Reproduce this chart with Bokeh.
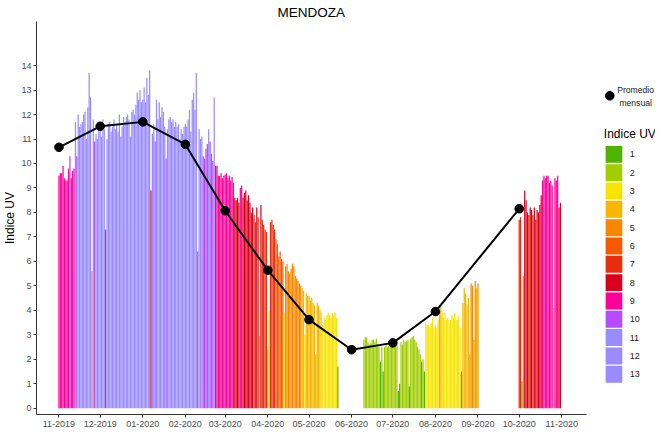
import math
import pandas as pd
from bokeh.plotting import figure
from bokeh.models import Range1d, FixedTicker, DatetimeTickFormatter, ColumnDataSource
from bokeh.embed import file_html
from bokeh.resources import INLINE
from bokeh.core.properties import value

# ---------------- data ----------------
title_text = "MENDOZA"
y_label = "Indice UV"

uv_levels = [1, 2, 3, 4, 5, 6, 7, 8, 9, 10, 11, 12, 13]
uv_colors = ["#4EB400", "#A0CE00", "#F7E400", "#F8B600", "#F88700", "#F85900",
             "#E82C0E", "#D8001D", "#FF0099", "#B54CFF", "#998CFF", "#998CFF", "#998CFF"]

# daily UV index, each list starts at the given date
start_nov_2019 = "2019-11-01"
uv_nov_2019 = [9.5, 9.6, 9.6, 9.9, 9.4, 9.3, 9.3, 9.8, 10.3, 9.4, 9.7, 9.8,
               11.7, 10.3, 12.0, 11.5, 11.6, 11.7, 12.0, 12.1, 11.0, 12.3, 13.7, 12.7,
               5.6, 11.8, 10.9, 11.2, 11.0, 11.5]
start_dec_2019 = "2019-12-01"
uv_dec_2019 = [11.5, 11.1, 11.8, 11.4, 7.3, 11.0, 11.6, 11.7, 11.3, 11.5,
               11.8, 11.4, 11.6, 11.3, 12.0, 11.1, 11.5, 11.9, 11.7, 11.9,
               12.0, 11.8, 11.1, 12.1, 12.2, 12.0, 12.4, 12.9, 12.6, 13.0, 12.5]
start_jan_2020 = "2020-01-01"
uv_jan_2020 = [12.6, 13.1, 12.5, 13.5, 12.8, 13.8, 8.9, 11.2, 11.6, 10.9,
               12.6, 11.8, 12.5, 11.9, 12.3, 12.1, 11.5, 10.2, 11.4, 11.8,
               11.9, 11.7, 11.8, 11.5, 11.7, 11.5, 11.6, 11.0, 11.4, 11.2, 11.5]
start_feb_2020 = "2020-02-01"
uv_feb_2020 = [11.6, 11.5, 11.8, 12.2, 11.3, 12.6, 12.9, 12.2, 13.7, 6.4,
               11.4, 11.0, 11.1, 10.3, 10.2, 10.6, 10.8, 11.4, 10.9, 10.4,
               10.1, 12.7, 9.9, 9.9, 9.5, 9.5, 9.6, 9.4, 9.5]
start_mar_2020 = "2020-03-01"
uv_mar_2020 = [9.55, 9.6, 9.4, 9.5, 9.3, 9.45, 9.2, 8.6, 8.5, 8.6,
               8.4, 9.0, 9.1, 8.6, 8.8, 8.9, 8.5, 8.7, 8.4, 8.0,
               8.2, 7.9, 7.6, 8.2, 7.8, 2.95, 8.3, 7.7, 7.5, 7.3, 7.2]
start_apr_2020 = "2020-04-01"
uv_apr_2020 = [2.4, 3.95, 7.6, 7.7, 7.5, 7.3, 6.9, 6.7, 6.2, 6.4,
               6.1, 6.0, 3.9, 5.8, 5.9, 5.6, 5.5, 5.7, 5.9, 5.8,
               5.4, 5.3, 5.2, 5.1, 5.0, 4.9, 4.8, 3.0, 4.7, 4.6]
start_may_2020 = "2020-05-01"
uv_may_2020 = [4.6, 4.4, 4.5, 4.3, 4.2, 2.2, 4.3, 4.2, 4.0, 3.9,
               3.4, 3.7, 3.6, 3.8, 3.9, 3.8, 3.7, 3.9, 3.8, 3.9, 3.7, 1.7]
start_jun_2020 = "2020-06-10"
uv_jun_2020 = [2.8, 2.9, 2.9, 2.7, 2.6, 2.65, 2.8, 2.8, 2.7, 2.85,
               2.6, 2.5, 1.9, 2.5, 1.5, 2.5, 2.6, 2.5, 2.55, 2.7, 2.5]
start_jul_2020 = "2020-07-01"
uv_jul_2020 = [2.6, 2.8, 2.7, 2.6, 0.7, 1.0, 2.7, 2.6, 2.8, 2.7,
               2.75, 2.8, 0.9, 2.85, 2.9, 2.95, 2.8, 2.7, 2.5, 2.4,
               2.2, 1.9, 2.0, 1.5, 3.5, 3.4, 3.4, 3.3, 3.5, 3.7, 3.3]
start_aug_2020 = "2020-08-01"
uv_aug_2020 = [3.4, 3.3, 3.6, 4.0, 4.2, 3.9, 3.7, 3.9, 3.6, 3.7,
               3.5, 3.6, 3.8, 3.7, 3.9, 3.6, 3.6, 3.8, 3.3, 1.5,
               4.3, 4.9, 4.7, 4.2, 4.5, 2.2, 5.1, 5.0, 2.8, 5.2, 4.9]
start_sep_2020 = "2020-09-01"
uv_sep_2020 = [5.1]
start_oct_2020 = "2020-10-01"
uv_oct_2020 = [7.7, 7.8, 1.1, 5.4, 8.9, 8.5, 8.0, 7.9, 8.2, 8.1,
               7.9, 8.2, 7.7, 8.1, 8.0, 8.3, 8.7, 9.3, 9.5, 9.4,
               9.5, 9.5, 9.2, 9.3, 9.1, 4.1, 9.4, 9.3, 9.5, 8.2, 8.4]

# monthly average ("Promedio mensual")
avg_months = ["2019-11-01", "2019-12-01", "2020-01-01", "2020-02-01", "2020-03-01",
              "2020-04-01", "2020-05-01", "2020-06-01", "2020-07-01", "2020-08-01",
              "2020-10-01"]
avg_values = [10.66, 11.52, 11.70, 10.78, 8.07, 5.64, 3.62, 2.39, 2.67, 3.95, 8.15]

tick_months = ["2019-11-01", "2019-12-01", "2020-01-01", "2020-02-01", "2020-03-01",
               "2020-04-01", "2020-05-01", "2020-06-01", "2020-07-01", "2020-08-01",
               "2020-09-01", "2020-10-01", "2020-11-01"]
y_ticks = list(range(0, 15))

legend_avg_label = ["Promedio", "mensual"]
legend_title = "Indice UV"

# ---------------- build ----------------
segments = [(start_nov_2019, uv_nov_2019), (start_dec_2019, uv_dec_2019),
            (start_jan_2020, uv_jan_2020), (start_feb_2020, uv_feb_2020),
            (start_mar_2020, uv_mar_2020), (start_apr_2020, uv_apr_2020),
            (start_may_2020, uv_may_2020), (start_jun_2020, uv_jun_2020),
            (start_jul_2020, uv_jul_2020), (start_aug_2020, uv_aug_2020),
            (start_sep_2020, uv_sep_2020), (start_oct_2020, uv_oct_2020)]
dates, vals = [], []
for start, lst in segments:
    d = pd.date_range(start, periods=len(lst), freq="D")
    dates.extend(list(d))
    vals.extend(lst)
cols = [uv_colors[min(13, max(1, int(math.floor(v)))) - 1] for v in vals]
src = ColumnDataSource(dict(x=dates, top=vals, color=cols))

FONT = "Liberation Sans"
DAY = 86400000.0
W, H = 655, 432
B_LEFT, B_TOP, B_BOTTOM = 32, 20, 18        # borders (px)
frame_w = W - B_LEFT
frame_h = H - B_TOP - B_BOTTOM
page_left, page_top = 8 + B_LEFT, 8 + B_TOP

# page-pixel layout targets
X_NOV19, X_NOV20 = 62.6, 568.7
PX_PER_DAY = (X_NOV20 - X_NOV19) / 366.0
Y_ZERO, Y_14 = 415.7, 72.2
PX_PER_UV = (Y_ZERO - Y_14) / 14.0

x0 = pd.Timestamp("2019-11-01") - pd.Timedelta(days=(X_NOV19 - page_left) / PX_PER_DAY)
x1 = x0 + pd.Timedelta(days=frame_w / PX_PER_DAY)
axis_end = pd.Timestamp("2020-11-01") + pd.Timedelta(days=(594.0 - X_NOV20) / PX_PER_DAY)
y0 = -(page_top + frame_h - Y_ZERO) / PX_PER_UV
y1 = y0 + frame_h / PX_PER_UV

p = figure(width=W, height=H, output_backend="svg", toolbar_location=None,
           x_axis_type="datetime", x_range=Range1d(x0, x1), y_range=Range1d(y0, y1),
           min_border_left=B_LEFT, min_border_right=0, min_border_top=B_TOP,
           min_border_bottom=B_BOTTOM)
# legend coordinate system: page pixels over the frame
p.extra_x_ranges = {"px": Range1d(page_left, page_left + frame_w)}
p.extra_y_ranges = {"py": Range1d(page_top + frame_h, page_top)}

p.vbar(x="x", top="top", bottom=0, width=0.9 * DAY, fill_color="color",
       line_color=None, source=src)
am = pd.to_datetime(avg_months)
p.line(am, avg_values, line_color="black", line_width=2)
p.scatter(am, avg_values, size=8.6, fill_color="black", line_color="black")

p.title.text = title_text
p.title.align = "left"
p.title.offset = 281 - page_left
p.title.text_font = FONT
p.title.text_font_size = "13.5px"
p.title.text_font_style = "normal"
p.title.text_color = "#000000"
p.title.standoff = 4

p.grid.visible = False
p.outline_line_color = None
p.background_fill_color = "white"
p.border_fill_color = "white"

p.xaxis.ticker = FixedTicker(ticks=[pd.Timestamp(t).value / 1e6 for t in tick_months])
p.xaxis.bounds = (x0.value / 1e6, axis_end.value / 1e6)
fmt = "%m-%Y"
p.xaxis.formatter = DatetimeTickFormatter(days=fmt, months=fmt, years=fmt, hours=fmt,
                                          minutes=fmt, seconds=fmt, milliseconds=fmt,
                                          microseconds=fmt, minsec=fmt, hourmin=fmt)
p.yaxis.ticker = FixedTicker(ticks=y_ticks)
for ax in (p.xaxis, p.yaxis):
    ax.axis_line_color = "#333333"
    ax.axis_line_width = 1
    ax.major_tick_line_color = "#333333"
    ax.major_tick_out = 3
    ax.major_tick_in = 0
    ax.minor_tick_line_color = None
    ax.major_label_text_font = FONT
    ax.major_label_text_font_size = "9px"
    ax.major_label_text_color = "#4D4D4D"
    ax.major_label_standoff = 2
p.xaxis.major_label_standoff = 3
p.xaxis.axis_label = None
p.yaxis.axis_label = y_label
p.yaxis.axis_label_text_font = FONT
p.yaxis.axis_label_text_font_size = "12px"
p.yaxis.axis_label_text_font_style = "normal"
p.yaxis.axis_label_text_color = "#000000"
p.yaxis.axis_label_standoff = 1

# ---------------- legend (drawn in page-pixel coordinates) ----------------
lx = dict(x_range_name="px", y_range_name="py")
p.scatter([617], [102.5], size=8.6, fill_color="black", line_color="black", **lx)
p.text(x=[643, 643], y=[96.5, 109.6], text=legend_avg_label, text_align="center",
       text_baseline="middle", text_font=value(FONT), text_font_size="8.6px",
       text_color="#1A1A1A", **lx)
p.text(x=[611], y=[140.9], text=[legend_title], text_align="left", text_baseline="middle",
       text_font=value(FONT), text_font_size="12px", text_color="#000000", **lx)
pitch = 18.37
ys = [152.7 + 8.5 + pitch * i for i in range(len(uv_levels))]
p.rect(x=[621.2] * len(uv_levels), y=ys, width=16.8, height=17.0,
       fill_color=uv_colors, line_color=None, **lx)
p.text(x=[637.1] * len(uv_levels), y=ys, text=[str(v) for v in uv_levels],
       text_align="left", text_baseline="middle", text_font=value(FONT),
       text_font_size="9px", text_color="#1A1A1A", **lx)

open("out.html", "w").write(file_html(p, INLINE))
